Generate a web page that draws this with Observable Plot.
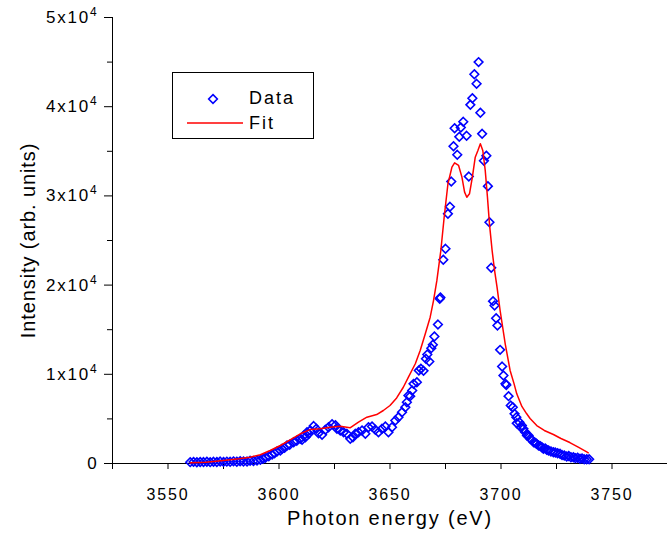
<!DOCTYPE html>
<html>
<head>
<meta charset="utf-8">
<script src="https://cdn.jsdelivr.net/npm/d3@7"></script>
<script src="https://cdn.jsdelivr.net/npm/@observablehq/plot@0.6"></script>
<style>
  html, body { margin: 0; padding: 0; background: white; }
  #chart { width: 667px; height: 535px; }
</style>
</head>
<body>
<div id="chart"></div>
<script>
// ---- data ----
const dataEnergy = [
  3560, 3561.5, 3563, 3564.5, 3566, 3567.5, 3569, 3570.5, 3572, 3573.5,
  3575, 3576.5, 3578, 3579.5, 3581, 3582.5, 3584, 3585.6, 3587, 3588.5,
  3590.1, 3591.6, 3592.8, 3593.9, 3595.4, 3596.9, 3598, 3599.1, 3600.6, 3601.4,
  3602.5, 3603.6, 3604.8, 3606.6, 3608, 3609.6, 3610.4, 3611.2, 3611.9, 3612.6,
  3613.4, 3614.1, 3615.6, 3616.8, 3617.8, 3619.4, 3620.9, 3622.3, 3623.9, 3625.4,
  3626.1, 3627.6, 3629.1, 3630.6, 3632.1, 3633.3, 3634.4, 3635.8, 3637.4, 3638.9,
  3640.3, 3641.9, 3643.4, 3644.8, 3646.4, 3647.9, 3649.3, 3650.9, 3652.4, 3653.8,
  3655.4, 3656.9, 3657.6, 3658.3, 3659.1, 3660.0, 3660.6, 3662.1, 3663.0, 3663.9,
  3665.1, 3666.2, 3666.8, 3667.7, 3668.6, 3669.3, 3670.0, 3671.6, 3672.4, 3672.7,
  3674.0, 3675.0, 3676.1, 3677.0, 3677.6, 3678.6, 3679.1, 3680.3, 3681.2, 3681.9,
  3683.0, 3684.5, 3685.5, 3686.2, 3687.1, 3688.0, 3689.0, 3689.9, 3690.7, 3691.5,
  3692.3, 3693.4, 3694.1, 3694.8, 3695.6, 3696.4, 3697.1, 3697.8, 3698.4, 3699.6,
  3700.5, 3701.1, 3702.0, 3702.4, 3703.4, 3704.4, 3705.3, 3706.1, 3706.9, 3707.1,
  3708.3, 3708.9, 3709.4, 3710.1, 3710.9, 3711.7, 3712.4, 3713.2, 3713.9, 3714.7,
  3715.5, 3716.1, 3716.9, 3717.7, 3718.4, 3719.1, 3719.9, 3720.6, 3721.4, 3722.5,
  3723.6, 3724.5, 3725.5, 3726.6, 3727.5, 3728.5, 3729.6, 3730.5, 3731.5, 3732.6,
  3733.5, 3734.5, 3735.6, 3736.5, 3737.5, 3738.6, 3739.7
];
const dataIntensity = [
  150, 180, 140, 170, 160, 200, 150, 190, 170, 220,
  180, 210, 190, 240, 200, 260, 230, 220, 300, 280,
  340, 410, 520, 640, 820, 1010, 1150, 1350, 1460, 1650,
  1750, 2020, 2100, 2390, 2550, 2770, 2660, 3140, 2950, 3510,
  3330, 3700, 4200, 3890, 3400, 3220, 3780, 4070, 4400, 4300,
  3890, 3700, 3510, 3330, 2770, 2950, 3330, 3510, 3700, 3330,
  4070, 4150, 3780, 3510, 3890, 4150, 3510, 4070, 4820, 5190,
  5750, 6310, 6870, 7620, 7550, 8180, 8930, 9110, 10430, 10620,
  10390, 11740, 12220, 11430, 12930, 13310, 14240, 15580, 18460, 18610,
  22840, 24070, 27990, 28780, 31610, 35570, 37590, 34610, 36620, 37670,
  38310, 36740, 32170, 40210, 40950, 43640, 42570, 45000, 39320, 36960,
  33940, 34500, 31090, 27050, 21940, 18200, 17710, 16290, 15470, 12740,
  10870, 9870, 8930, 8800, 7550, 6500, 6310, 5570, 5190, 4520,
  4630, 4070, 4260, 3890, 3510, 3140, 3140, 2770, 2660, 2390,
  2300, 2210, 2020, 1950, 1830, 1650, 1700, 1530, 1460, 1350,
  1270, 1230, 1150, 1090, 950, 900, 780, 850, 700, 710,
  600, 650, 530, 560, 470, 480, 480
];
const fitEnergy = [
  3560, 3567, 3575, 3582, 3587, 3591.6, 3596, 3600.6, 3605, 3609.6,
  3614, 3618.6, 3623, 3627.6, 3632, 3635.8, 3639.6, 3644, 3647, 3650,
  3653, 3656, 3658.3, 3661.4, 3663.6, 3665.9, 3668.1, 3669.6, 3671.1, 3672.9,
  3674.4, 3676.1, 3677.9, 3679.1, 3680.9, 3682.4, 3683.6, 3684.6, 3685.8, 3687.1,
  3688.4, 3689.6, 3690.7, 3691.8, 3692.9, 3693.9, 3694.8, 3696.0, 3697.1, 3698.2,
  3699.6, 3701.9, 3704.1, 3705.9, 3707.1, 3709.4, 3711.5, 3713.1, 3716.1, 3719.5,
  3723.6, 3727, 3731, 3735, 3738.6, 3739.3
];
const fitIntensity = [
  80, 150, 340, 530, 710, 980, 1460, 2020, 2660, 3330,
  3800, 3890, 4070, 4180, 4000, 4630, 5190, 5490, 5940, 6500,
  7350, 8550, 9680, 11180, 12670, 14540, 16400, 18270, 20500, 23880,
  27610, 31360, 33220, 33710, 33410, 32100, 30420, 29850, 30240, 32100,
  34340, 35090, 35840, 35090, 32850, 29850, 26870, 23880, 21640, 19800,
  17150, 13420, 10430, 8930, 7810, 6400, 5600, 5050, 4250, 3700,
  3250, 2800, 2350, 1800, 1300, 1200
];
const xMajorTicks = [3550, 3600, 3650, 3700, 3750];
const xMinorTicks = [3525, 3575, 3625, 3675, 3725, 3775];
const yMajorTicks = [0, 10000, 20000, 30000, 40000, 50000];
const yMinorTicks = [5000, 15000, 25000, 35000, 45000];
const seriesNames = ["Data", "Fit"];
const xTitle = "Photon energy (eV)";
const yTitle = "Intensity (arb. units)";

const data = dataEnergy.map((E, i) => ({E, I: dataIntensity[i]}));
const fit = fitEnergy.map((E, i) => ({E, I: fitIntensity[i]}));

const font = "'Liberation Sans', Arial, sans-serif";
const blue = "#0000ff", red = "#ff0000";

const plot = Plot.plot({
  width: 667,
  height: 535,
  marginLeft: 112,
  marginRight: 0,
  marginTop: 17,
  marginBottom: 72,
  style: {fontFamily: font, fontSize: "16px", background: "white", color: "black", letterSpacing: "1.8px", overflow: "visible"},
  x: {domain: [3525, 3775], label: null},
  y: {domain: [0, 50000], label: null},
  marks: [
    Plot.ruleX([3525], {stroke: "black", strokeWidth: 1}),
    Plot.ruleY([0], {stroke: "black", strokeWidth: 1}),
    Plot.axisX(xMajorTicks, {tickSize: 6, tickPadding: 19, tickFormat: d3.format("d"), fontSize: 16, label: null, stroke: "black"}),
    Plot.axisX(xMinorTicks, {tickSize: 6, tickFormat: () => "", label: null, stroke: "black"}),
    Plot.axisY(yMajorTicks, {tickSize: 8, tickPadding: 6, tickFormat: d => d === 0 ? "0" : `${d / 1e4}x10`, fontSize: 17, label: null, stroke: "black"}),
    Plot.axisY(yMinorTicks, {tickSize: 5, tickFormat: () => "", label: null, stroke: "black"}),
    Plot.dot(data, {x: "E", y: "I", symbol: "diamond2", r: 3.9, stroke: blue, strokeWidth: 1.6, fill: "none"}),
    Plot.line(fit, {x: "E", y: "I", stroke: red, strokeWidth: 1.5}),
    Plot.text([yTitle], {text: d => d, frameAnchor: "left", textAnchor: "middle", dx: -84, rotate: -90, fontSize: 20, fill: "black"}),
    Plot.text([xTitle], {text: d => d, frameAnchor: "bottom", textAnchor: "middle", dy: 61, fontSize: 20, fill: "black"})
  ]
});

document.getElementById("chart").appendChild(plot);

const svg = d3.select(plot);

// y title slightly tighter than the other texts
svg.selectAll("text").filter(function () { return this.textContent === yTitle; })
  .style("letter-spacing", "0.9px");

// superscript exponent on the y tick labels
svg.selectAll('g[aria-label="y-axis tick label"] text').each(function () {
  const t = d3.select(this);
  const s = t.text();
  if (s.endsWith("x10")) {
    t.append("tspan").attr("dy", "-7").attr("font-size", 12).text("4");
  }
});

// legend
const lg = svg.append("g").attr("font-family", font).attr("font-size", 18)
  .attr("text-anchor", "start").style("letter-spacing", "2px");
lg.append("rect").attr("x", 172.5).attr("y", 72.5).attr("width", 141).attr("height", 66)
  .attr("fill", "white").attr("stroke", "black").attr("stroke-width", 1);
lg.append("path").attr("d", d3.symbol(d3.symbolDiamond2, Math.PI * 3.9 * 3.9)())
  .attr("transform", "translate(213,99)").attr("fill", "none").attr("stroke", blue).attr("stroke-width", 1.6);
lg.append("text").attr("x", 249).attr("y", 104).attr("text-anchor", "start").text(seriesNames[0]);
lg.append("line").attr("x1", 187).attr("x2", 243).attr("y1", 123).attr("y2", 123)
  .attr("stroke", red).attr("stroke-width", 1.5);
lg.append("text").attr("x", 249).attr("y", 129).attr("text-anchor", "start").text(seriesNames[1]);
</script>
</body>
</html>
